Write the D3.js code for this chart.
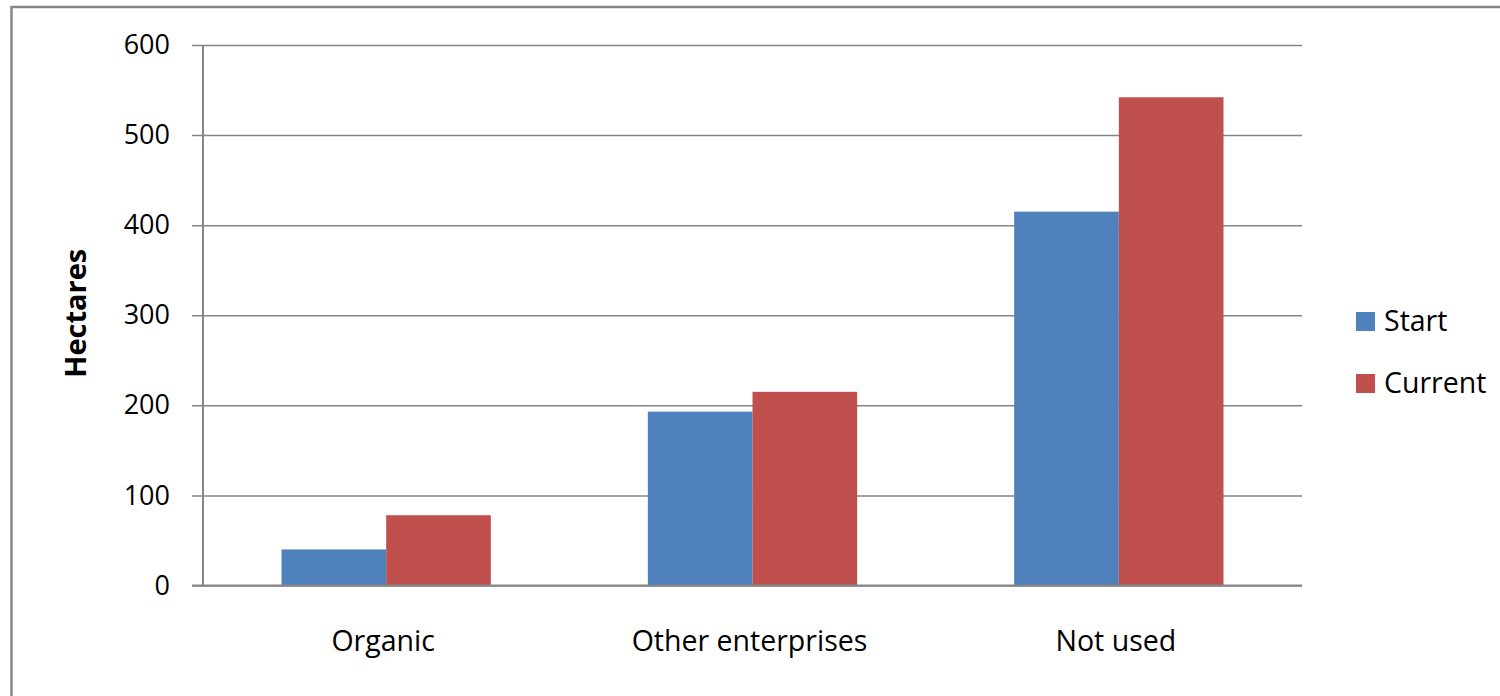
<!DOCTYPE html>
<html>
<head>
<meta charset="utf-8">
<script src="https://cdn.jsdelivr.net/npm/d3@7"></script>
<style>
  html, body { margin: 0; padding: 0; background: #fff; }
  svg { display: block; }
  text { font-family: "Open Sans", "Noto Sans", sans-serif; fill: #000; }
</style>
</head>
<body>
<svg id="chart" width="1500" height="696"></svg>
<script>
// Land use, hectares
const categories = ["Organic", "Other enterprises", "Not used"];
const seriesNames = ["Start", "Current"];
const startValues = [40, 193, 415];
const currentValues = [78, 215, 542];
const yTicks = [0, 100, 200, 300, 400, 500, 600];
const seriesColors = ["#4F81BD", "#C0504D"];

const rows = categories.map((c, i) => ({
  category: c,
  values: [
    { series: seriesNames[0], value: startValues[i] },
    { series: seriesNames[1], value: currentValues[i] }
  ]
}));

const svg = d3.select("#chart");
const W = 1500, H = 696;
const plot = { left: 203, right: 1302, top: 45, bottom: 585.5 };
const gridColor = "#868686";

// chart frame
svg.append("rect")
  .attr("x", 11.5).attr("y", 7)
  .attr("width", W + 20).attr("height", H + 20)
  .attr("fill", "none").attr("stroke", gridColor).attr("stroke-width", 2.5);

const y = d3.scaleLinear().domain([0, 600]).range([plot.bottom, plot.top]);
const x0 = d3.scaleBand().domain(categories).range([plot.left, plot.right]).padding(0);
const x1 = d3.scaleBand().domain(seriesNames).range([0, x0.bandwidth()])
  .paddingInner(0).paddingOuter(0.75);
const color = d3.scaleOrdinal().domain(seriesNames).range(seriesColors);

// horizontal gridlines with left tick marks and labels
const yAxis = d3.axisLeft(y)
  .tickValues(yTicks)
  .tickSize(-(plot.right - plot.left))
  .tickPadding(33)
  .tickFormat(d3.format("d"));

const yg = svg.append("g")
  .attr("transform", `translate(${plot.left},0)`)
  .call(yAxis);
yg.select(".domain").remove();
yg.selectAll(".tick line")
  .attr("x1", -11)
  .attr("stroke", gridColor)
  .attr("stroke-width", 1.5);
yg.selectAll(".tick text")
  .attr("font-size", 27)
  .attr("fill", "#000")
  .style("font-family", '"Open Sans", "Noto Sans", sans-serif');

// vertical axis line
svg.append("line")
  .attr("x1", plot.left).attr("x2", plot.left)
  .attr("y1", plot.top).attr("y2", plot.bottom)
  .attr("stroke", gridColor).attr("stroke-width", 2);

// bars
const groups = svg.append("g").selectAll("g")
  .data(rows)
  .join("g")
  .attr("transform", d => `translate(${x0(d.category)},0)`);

groups.selectAll("rect")
  .data(d => d.values)
  .join("rect")
  .attr("x", d => x1(d.series))
  .attr("width", x1.bandwidth())
  .attr("y", d => y(d.value))
  .attr("height", d => y(0) - y(d.value))
  .attr("fill", d => color(d.series));

// horizontal axis line
svg.append("line")
  .attr("x1", plot.left - 11).attr("x2", plot.right)
  .attr("y1", plot.bottom).attr("y2", plot.bottom)
  .attr("stroke", gridColor).attr("stroke-width", 2);

// category labels
const xAxis = d3.axisBottom(x0).tickSize(0).tickPadding(0);
const xg = svg.append("g")
  .attr("transform", `translate(0,${plot.bottom})`)
  .call(xAxis);
xg.select(".domain").remove();
xg.selectAll(".tick text")
  .attr("font-size", 28.5)
  .attr("dy", 0)
  .attr("y", 65)
  .attr("dx", -3)
  .attr("fill", "#000")
  .style("font-family", '"Open Sans", "Noto Sans", sans-serif');

// y axis title
svg.append("text")
  .attr("transform", `translate(86,${(plot.top + plot.bottom) / 2 - 2}) rotate(-90)`)
  .attr("text-anchor", "middle")
  .attr("font-size", 29)
  .attr("font-weight", "bold")
  .text("Hectares");

// legend
const legend = svg.append("g").attr("transform", "translate(1356,312)");
const items = legend.selectAll("g")
  .data(seriesNames)
  .join("g")
  .attr("transform", (d, i) => `translate(0,${i * 62})`);
items.append("rect")
  .attr("width", 19).attr("height", 19)
  .attr("fill", d => color(d));
items.append("text")
  .attr("x", 28).attr("y", 19)
  .attr("font-size", 28.5)
  .text(d => d);
</script>
</body>
</html>
